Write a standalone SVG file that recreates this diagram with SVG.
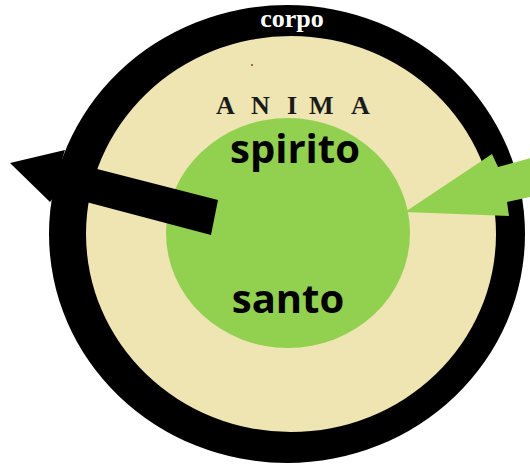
<svg xmlns="http://www.w3.org/2000/svg" width="530" height="466" viewBox="0 0 530 466">
  <style>
    .serif { font-family: "Liberation Serif", "Times New Roman", serif; font-weight: bold; }
    .sans { font-family: "Open Sans", "Noto Sans", "Liberation Sans", sans-serif; font-weight: bold; fill: #000; }
  </style>
  <rect x="0" y="0" width="530" height="466" fill="#ffffff"/>
  <g id="corpo">
    <ellipse cx="287" cy="234" rx="238" ry="229" fill="#000000"/>
    <text class="serif" x="292" y="27" font-size="26" fill="#ffffff" text-anchor="middle">corpo</text>
  </g>
  <g id="anima">
    <ellipse cx="291" cy="234" rx="205" ry="198" fill="#EEE5B2"/>
    <rect x="251" y="64" width="2" height="2" fill="#A0703A"/>
    <text class="serif" y="114" font-size="26" fill="#1a1a1a" x="216 251 287 309 351">ANIMA</text>
  </g>
  <g id="spirito-santo">
    <ellipse cx="288" cy="233" rx="122" ry="115" fill="#92D050"/>
    <text class="sans" x="295" y="163" font-size="40" text-anchor="middle">spirito</text>
    <text class="sans" x="288" y="313" font-size="40" text-anchor="middle">santo</text>
  </g>
  <g id="connectors">
    <polygon points="218,200 62,160 65,150 10,163 50,202 56,194 211,235" fill="#000000"/>
    <polygon points="405,212 492,154 498,167 535,157 535,196 507,202 509,216" fill="#92D050"/>
  </g>
</svg>
